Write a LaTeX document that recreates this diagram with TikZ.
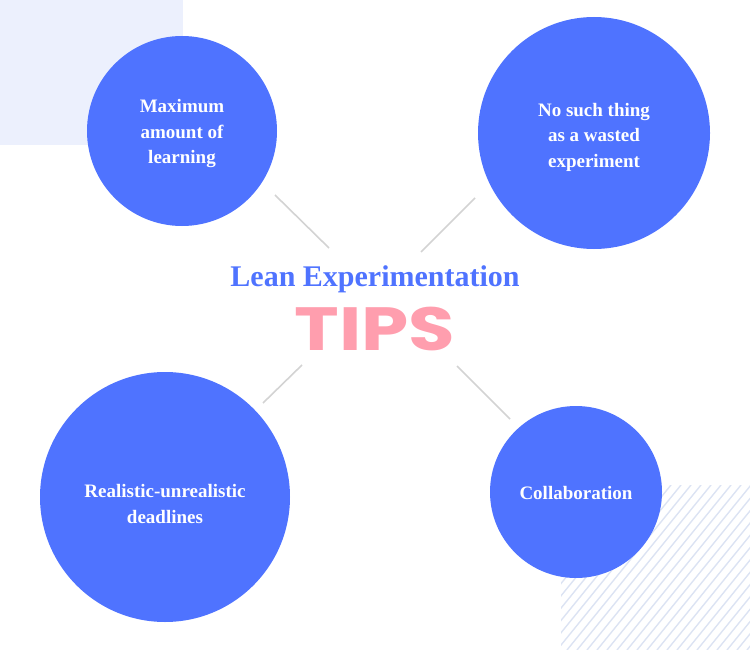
\documentclass[tikz,border=0pt]{standalone}
\usepackage{fontspec}
\setmainfont{Liberation Serif}
\newfontfamily\tipsfont{Poppins}
\usepackage{tikz}
\definecolor{tipblue}{RGB}{79, 115, 255}
\definecolor{tippink}{RGB}{255, 158, 174}
\definecolor{tiplav}{RGB}{236, 240, 253}
\definecolor{tiphatch}{RGB}{220, 227, 243}
\definecolor{tipgray}{RGB}{211, 211, 211}

\begin{document}
\begin{tikzpicture}[x=1pt, y=-1pt,
  bubble/.style={circle, fill=tipblue, text=white, inner sep=0pt, align=center,
    font=\bfseries\fontsize{19}{25.5}\selectfont},
  spoke/.style={tipgray, line width=1.6pt}]
  \useasboundingbox (0,0) rectangle (750,650);
  % background shapes
  \fill[tiplav] (0,0) rectangle (183,145);
  \begin{scope}
    \clip (561,485) rectangle (750,650);
    \foreach \x in {417,427,...,750} { \draw[tiphatch, line width=1.4pt] (\x,650) -- ++(134,-165); }
  \end{scope}
  % tips
  \node[bubble, minimum size=190pt] (learn) at (182,131) {};
  \node[bubble, minimum size=232pt] (waste) at (594,133) {};
  \node[bubble, minimum size=250pt] (dead) at (165,497) {};
  \node[bubble, minimum size=172pt] (collab) at (576,492) {};
  \node[bubble, fill=none] (learnlbl) at (182,134) {Maximum\\amount of\\learning};
  \node[bubble, fill=none] (wastelbl) at (594,137) {No such thing\\as a wasted\\experiment};
  \node[bubble, fill=none] (deadlbl) at (165,504) {Realistic-unrealistic\\deadlines};
  \node[bubble, fill=none] (collablbl) at (576,493) {Collaboration};
  % title
  \node[text=tipblue, font=\bfseries\fontsize{30}{36}\selectfont] (lean) at (375,279) {Lean Experimentation};
  \node[text=tippink, font=\tipsfont\bfseries\fontsize{61}{64}\selectfont] (tips) at (375,329) {\scalebox{1.24}[1]{TIPS}};
  % spokes
  \coordinate (s1) at (275,195); \coordinate (e1) at (329,248);
  \coordinate (s2) at (475,198); \coordinate (e2) at (421,252);
  \coordinate (s3) at (263,403); \coordinate (e3) at (302,365);
  \coordinate (s4) at (510,419); \coordinate (e4) at (457,366);
  \foreach \i in {1,2,3,4} { \draw[spoke] (s\i) -- (e\i); }
\end{tikzpicture}
\end{document}
